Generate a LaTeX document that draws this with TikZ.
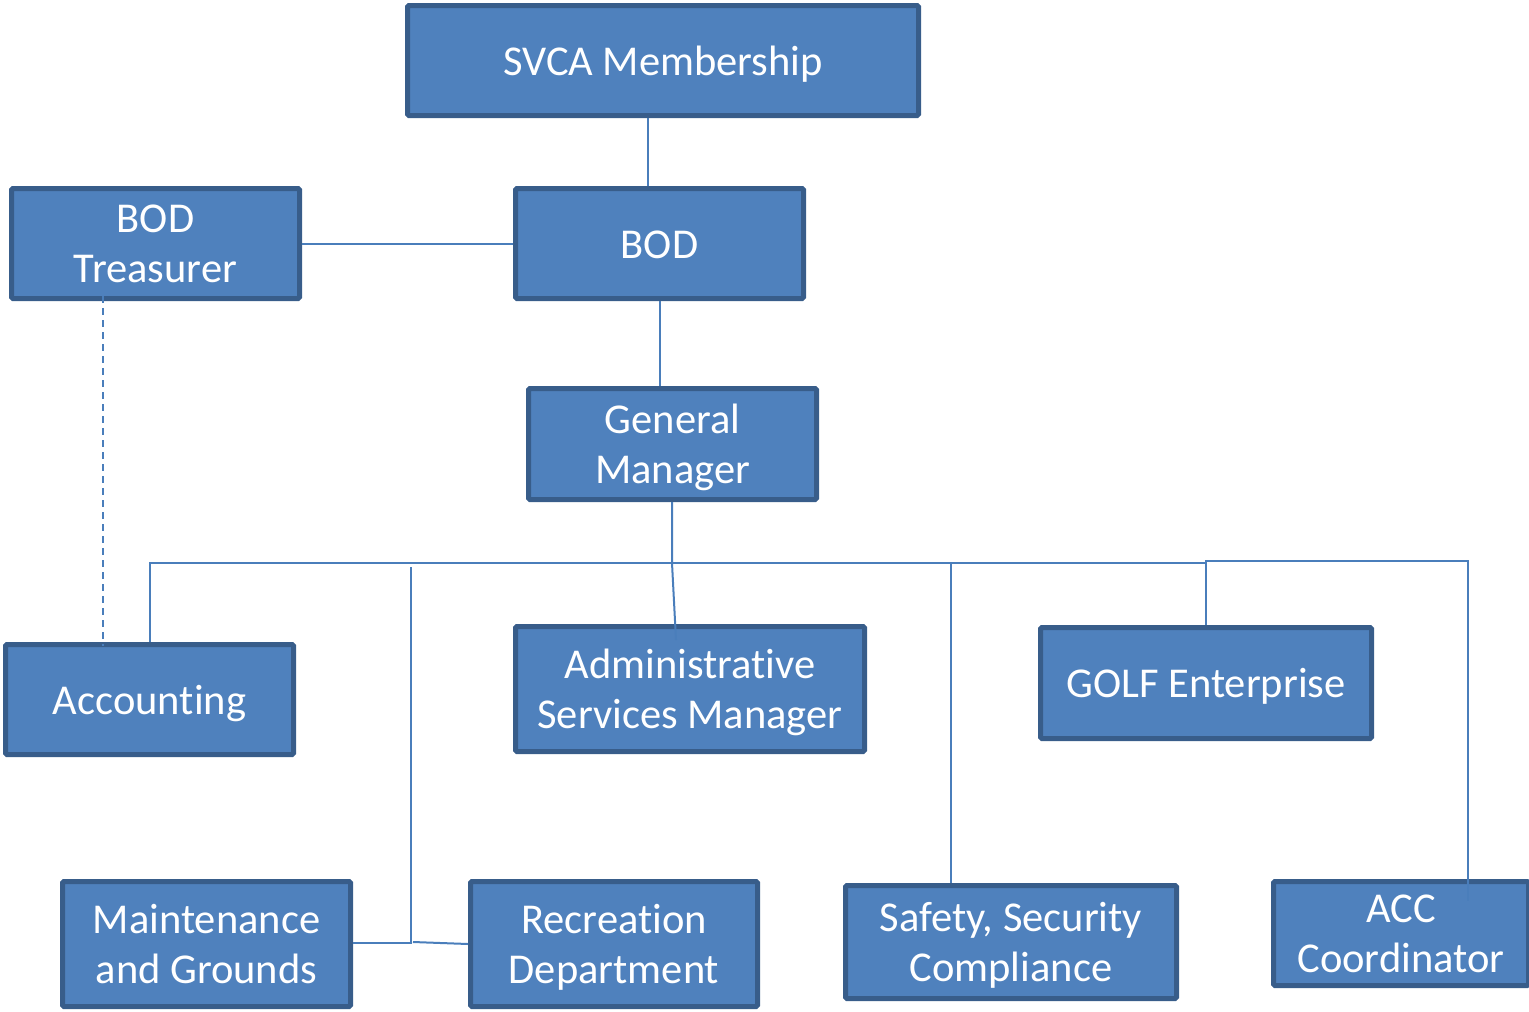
\documentclass[tikz,border=0pt]{standalone}
\usepackage{fontspec}
\setmainfont{Carlito}[Ligatures=NoCommon]
\definecolor{fillc}{HTML}{4F81BD}
\definecolor{bdr}{HTML}{385D8A}
\definecolor{lnc}{HTML}{4A7EBB}
\newcommand\twolines[2]{\raisebox{-4pt}[\height][\depth]{\begin{tabular}{@{}c@{}}#1\\#2\end{tabular}}}
\tikzset{
  box/.style={draw=bdr, fill=fillc, line width=5pt, rounded corners=1.5pt, text=white,
    align=center, inner sep=0pt, font=\fontsize{42.5}{50}\selectfont,
    execute at begin node={\rule{0pt}{37pt}},
    execute at end node={\rule[-8pt]{0pt}{8pt}}},
  conn/.style={draw=lnc, line width=2pt},
  dashline/.style={conn, dash pattern=on 7pt off 5pt}
}
\begin{document}
\begin{tikzpicture}[x=1pt,y=-1pt]
\useasboundingbox (0,0) rectangle (1529,1012);
\node[box, minimum width=511pt, minimum height=110pt] (svca) at (663,60.5) {SVCA Membership};
\node[box, minimum width=288pt, minimum height=110pt] (tre) at (155.5,243.5) {\twolines{BOD}{Treasurer}};
\node[box, minimum width=288pt, minimum height=110pt] (bod) at (659.5,243.5) {BOD};
\node[box, minimum width=288pt, minimum height=111pt] (gm) at (672.5,444) {\twolines{General}{Manager}};
\node[box, minimum width=288pt, minimum height=110pt] (acc) at (149.5,699.5) {Accounting};
\node[box, minimum width=349pt, minimum height=125pt] (adm) at (690,689) {\twolines{Administrative}{Services Manager}};
\node[box, minimum width=331pt, minimum height=111pt] (golf) at (1206,683) {GOLF Enterprise};
\node[box, minimum width=288pt, minimum height=125pt] (mnt) at (206.5,944) {\twolines{Maintenance}{and Grounds}};
\node[box, minimum width=287pt, minimum height=125pt] (rec) at (614,944) {\twolines{Recreation}{Department}};
\node[box, minimum width=331pt, minimum height=113pt] (saf) at (1011,942) {\twolines{Safety, Security}{Compliance}};
\node[box, minimum width=255pt, minimum height=104pt] (accc) at (1401,933.5) {\twolines{ACC}{Coordinator}};
% helper coordinates
\coordinate (xs) at (648,0);
\coordinate (xd) at (103,0);
\coordinate (g1) at (672,563);
\coordinate (xa) at (676,0);
\coordinate (ba) at (150,563);
\coordinate (bm) at (411,567);
\coordinate (bmc) at (411,943);
\coordinate (rl) at (413,942);
\coordinate (bs) at (951,563);
\coordinate (bg) at (1206,563);
\coordinate (bg2) at (1206,561);
\coordinate (bc) at (1468,561);
% connectors
\draw[conn] (svca.south -| xs) -- (bod.north -| xs);
\draw[conn] (tre.east) -- (bod.west);
\draw[dashline] ([yshift=5pt]tre.south -| xd) -- ([yshift=-4pt]acc.north -| xd);
\draw[conn] (bod.south) -- (bod.south |- gm.north);
\draw[conn] (gm.south -| g1) -- (g1) -- ([yshift=-16pt]adm.north -| xa);
\draw[conn] (acc.north -| ba) -- (ba) -- (bg) -- (bg2) -- (bc) -- ([yshift=-22pt]accc.north -| bc);
\draw[conn] (bg2) -- (golf.north -| bg2);
\draw[conn] (bs) -- (saf.north -| bs);
\draw[conn] (bm) -- (bmc) -- (mnt.east |- bmc);
\draw[conn] (rl) -- (rec.west);
\end{tikzpicture}
\end{document}
